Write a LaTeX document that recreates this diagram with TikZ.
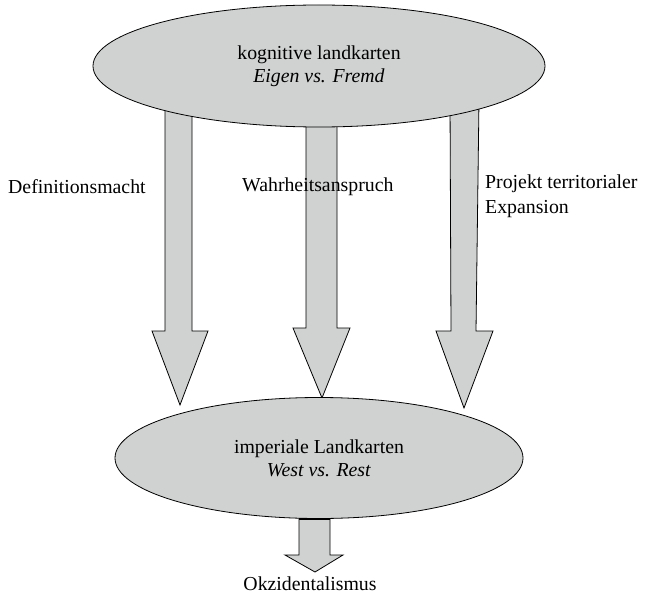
\documentclass[tikz,border=0pt]{standalone}
\usepackage{fontspec}
\setmainfont{Liberation Serif}
\usetikzlibrary{shapes.geometric}
\definecolor{fillgray}{RGB}{208,209,209}
\begin{document}
\begin{tikzpicture}[x=1bp,y=-1bp,
  oval/.style={ellipse,draw=black,fill=fillgray,line width=0.8bp,inner sep=0pt,align=center,font=\fontsize{19.8bp}{23bp}\selectfont},
  blockarrow/.style={draw=black,fill=fillgray,line width=0.8bp,line join=miter},
  lbl/.style={inner sep=0pt,align=left,font=\fontsize{19.8bp}{25bp}\selectfont}]
\useasboundingbox (0,0) rectangle (647,596);
% block arrows (behind ellipses)
\draw[blockarrow] (165,100) -- (165,331) -- (152,331) -- (180,405) -- (208,331) -- (192,331) -- (192,100) -- cycle;
\draw[blockarrow] (306,100) -- (306,328) -- (293,328) -- (322,398) -- (350,328) -- (337,328) -- (337,100) -- cycle;
\draw[blockarrow] (450,100) -- (451,331) -- (436,331) -- (464,408) -- (493,331) -- (476,331) -- (479,100) -- cycle;
% ellipses
\node[oval,minimum width=452bp,minimum height=122bp] (top) at (319,66) {kognitive landkarten\\\textit{Eigen vs. Fremd}};
\node[oval,minimum width=408bp,minimum height=121bp] (bot) at (319,458) {imperiale Landkarten\\\textit{West vs. Rest}};
% small arrow
\draw[blockarrow] (299,519) -- (299,555) -- (285,555) -- (315,572) -- (343,555) -- (330,555) -- (330,519) -- cycle;
\draw[line width=2.5bp] (299,519) -- (330,519);
% labels
\node[lbl,anchor=west] (l1) at (8,187) {Definitionsmacht};
\node[lbl,anchor=west] (l2) at (242,187) {Wahrheitsanspruch};
\node[lbl,anchor=north west] (l3) at (485,175) {Projekt territorialer\\Expansion};
\node[lbl] (l4) at (310,584) {Okzidentalismus};
\end{tikzpicture}
\end{document}
